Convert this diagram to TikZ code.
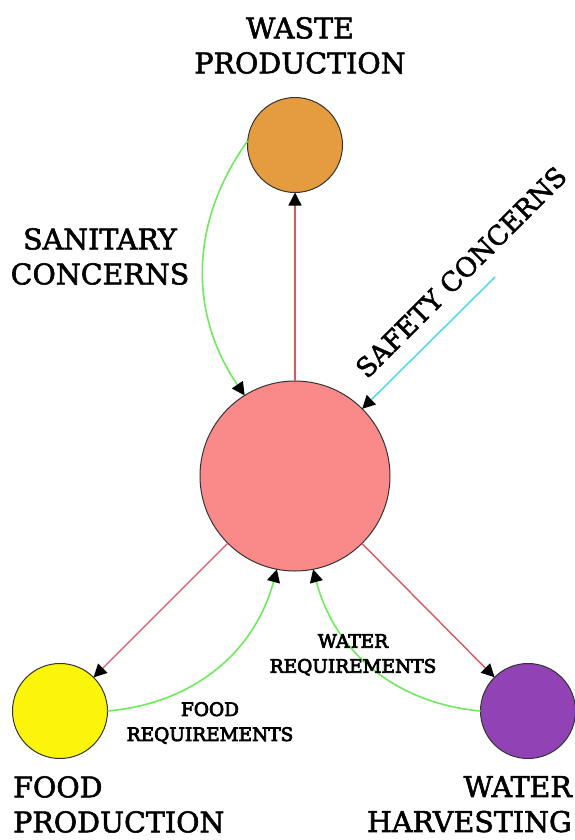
\documentclass[tikz,border=0pt]{standalone}
\usepackage{fontspec}
\setmainfont{DejaVu Serif}
\usetikzlibrary{arrows.meta,positioning}
\definecolor{hubpink}{RGB}{250,138,138}
\definecolor{wasteorange}{RGB}{228,156,62}
\definecolor{foodyellow}{RGB}{250,245,10}
\definecolor{waterpurple}{RGB}{145,66,180}
\definecolor{linkred}{RGB}{228,84,96}
\definecolor{linkgreen}{RGB}{110,235,90}
\definecolor{linkcyan}{RGB}{80,220,235}

\begin{document}
\begin{tikzpicture}[x=1pt, y=1pt,
    blob/.style={circle, draw=black!80, line width=1pt, inner sep=0pt, outer sep=0pt, minimum size=#1},
    tip/.style={-{Triangle[length=13pt,width=13pt,color=black]}},
    redlink/.style={tip, draw=linkred, line width=1.4pt},
    greenlink/.style={tip, draw=linkgreen, line width=1.6pt},
    biglbl/.style={font=\fontsize{28.5}{35}\selectfont\addfontfeature{FakeBold=2}, inner sep=0pt},
    smalllbl/.style={font=\fontsize{18.5}{25}\selectfont\addfontfeature{FakeBold=4}, inner sep=0pt, align=center, anchor=north}]
    \useasboundingbox (0,0) rectangle (574,-840);
    \node[blob=190pt, fill=hubpink] (hub) at (295,-476) {};
    \foreach \x/\y/\col/\name in {295/-145/wasteorange/waste,60/-711/foodyellow/food,528/-711/waterpurple/water}{\node[blob=95pt, fill=\col] (\name) at (\x,\y) {};}
    % links out of the hub
    \foreach \name in {waste,food,water}{\draw[redlink] (hub) -- (\name);}
    \draw[greenlink] (waste.175) to[bend right=35] (hub.122);
    \draw[greenlink] (food.east) to[bend right=35] (hub.-101);
    \draw[greenlink] (water.west) to[bend left=35] (hub.-79);
    \coordinate (safetyend) at (495,-277);
    \draw[tip, draw=linkcyan, line width=1.6pt] (safetyend) -- (hub.45);
    % labels
    \node[biglbl, align=center, anchor=north] (wastelbl) at (300,-17) {WASTE\\PRODUCTION};
    \node[biglbl, align=center, anchor=north] (sanlbl) at (100,-228) {SANITARY\\CONCERNS};
    \node[biglbl, align=left, anchor=north west] (foodlbl) at (13,-776) {FOOD\\PRODUCTION};
    \node[biglbl, align=right, anchor=north east] (waterlbl) at (572,-776) {WATER\\HARVESTING};
    \node[biglbl, rotate=45, font=\fontsize{26.5}{33}\selectfont\addfontfeature{FakeBold=2}] (safetylbl) at (461,-272) {SAFETY CONCERNS};
    \node[smalllbl] (foodreq) at (210,-702) {FOOD\\REQUIREMENTS};
    \node[smalllbl] (waterreq) at (353,-634) {WATER\\REQUIREMENTS};
\end{tikzpicture}
\end{document}
